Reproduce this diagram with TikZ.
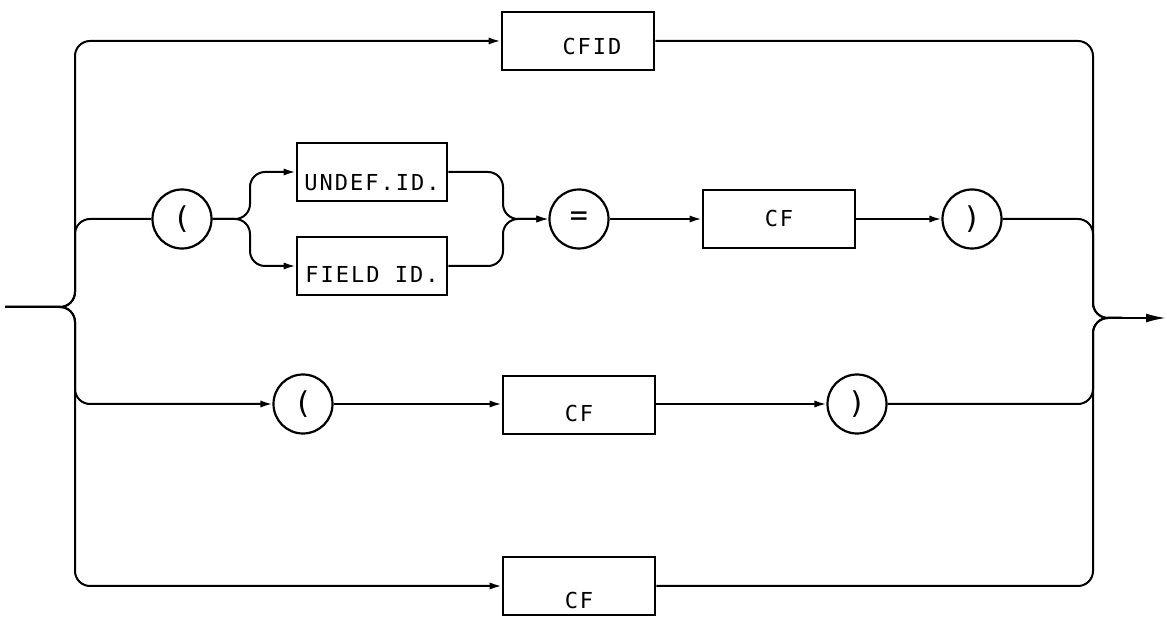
\documentclass[tikz,border=0pt]{standalone}
\usepackage{fontspec}
\usepackage{tikz}
\usetikzlibrary{arrows.meta}
\newfontfamily\railfont[LetterSpace=9]{DejaVu Sans Mono}

\begin{document}
\begin{tikzpicture}[x=0.5pt,y=-0.5pt,
		rail/.style={line width=1pt,rounded corners=7.5pt},
		into/.style={rail,-{Latex[length=6pt,width=3.6pt]}},
		term/.style={draw,line width=1.4pt,minimum width=76pt,minimum height=29pt,inner sep=0pt,
			font=\fontsize{11pt}{13pt}\selectfont\railfont,text height=8pt,text depth=0pt},
		sym/.style={draw,circle,line width=1.1pt,minimum size=29.5pt,inner sep=0pt,
			font=\fontsize{15pt}{17pt}\selectfont\railfont}]
			\useasboundingbox (0,0) rectangle (1167,619);
			\coordinate (in) at (5,307);
			\coordinate (split) at (75,307);
			\coordinate (join) at (1093,318);
			\coordinate (exit) at (1122,318);
			\coordinate (out) at (1166,318);
			\coordinate (fork) at (250,219);
			\coordinate (merge) at (503,219);
			\node[term,text height=14pt] (cfid) at (578,41) {\hspace*{14pt}CFID};
			\node[sym] (lpar1) at (182,219) {(};
			\node[term,minimum width=75pt,text height=19pt] (undef) at (372,172) {UNDEF.ID.};
			\node[term,minimum width=75pt,text height=17pt] (field) at (372,266) {FIELD ID.};
			\node[sym] (eq) at (579,219) {=};
			\node[term] (cf1) at (779,219) {CF};
			\node[sym] (rpar1) at (972,219) {)};
			\node[sym] (lpar2) at (303,404) {(};
			\node[term,text height=17pt] (cf2) at (579,405) {CF};
			\node[sym] (rpar2) at (857,404) {)};
			\node[term,text height=23pt] (cf3) at (579,586) {CF};
			\draw[into] (in) -- (split) -- (split |- cfid) -- (cfid.west);
			\draw[rail] (cfid.east) -- (join |- cfid) -- (join) -- (exit);
			\draw[rail] (in) -- (split) -- (split |- lpar1) -- (lpar1.west);
			\draw[into] (lpar1.east) -- (fork) -- (fork |- undef) -- (undef.west);
			\draw[into] (lpar1.east) -- (fork) -- (fork |- field) -- (field.west);
			\draw[into] (undef.east) -- (undef.east -| merge) -- (merge) -- (eq.west);
			\draw[into] (field.east) -- (field.east -| merge) -- (merge) -- (eq.west);
			\draw[into] (eq) -- (cf1);
			\draw[into] (cf1) -- (rpar1);
			\draw[rail] (rpar1.east) -- (join |- rpar1) -- (join) -- (exit);
			\draw[into] (in) -- (split) -- (split |- lpar2) -- (lpar2.west);
			\draw[into] (lpar2) -- (lpar2 -| cf2.west);
			\draw[into] (cf2.east |- rpar2) -- (rpar2);
			\draw[rail] (rpar2.east) -- (join |- rpar2) -- (join) -- (exit);
			\draw[into] (in) -- (split) -- (split |- cf3) -- (cf3.west);
			\draw[rail] (cf3.east) -- (join |- cf3) -- (join) -- (exit);
			\draw[rail,-{Latex[length=10pt,width=4.5pt]}] (exit) -- (out);
		\end{tikzpicture}
\end{document}
